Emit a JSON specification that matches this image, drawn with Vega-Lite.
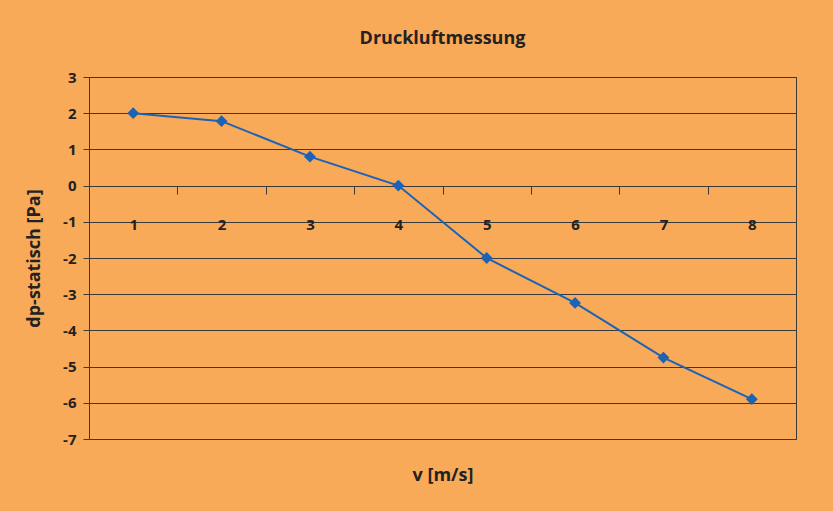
{
  "$schema": "https://vega.github.io/schema/vega-lite/v6.json",
  "width": 707,
  "height": 362,
  "autosize": {"type": "none"},
  "padding": {"left": 89, "top": 77, "right": 37, "bottom": 72},
  "background": "#F9AA58",
  "title": {
    "text": "Druckluftmessung",
    "font": "Open Sans",
    "fontSize": 18,
    "fontWeight": "bold",
    "color": "#222222",
    "anchor": "middle",
    "offset": 22
  },
  "config": {
    "view": {"stroke": "#3a3a3a", "strokeWidth": 1, "fill": null},
    "axis": {
      "labelFont": "Open Sans",
      "labelFontSize": 15,
      "labelFontWeight": "bold",
      "labelColor": "#222222",
      "titleFont": "Open Sans",
      "titleFontSize": 18,
      "titleFontWeight": "bold",
      "titleColor": "#222222",
      "domainColor": "#3a3a3a",
      "tickColor": "#3a3a3a",
      "gridColor": "#3a3a3a",
      "gridOpacity": 1
    }
  },
  "data": {
    "values": [
      {"v": "1", "dp": 2.0},
      {"v": "2", "dp": 1.78},
      {"v": "3", "dp": 0.8},
      {"v": "4", "dp": 0.0},
      {"v": "5", "dp": -2.0},
      {"v": "6", "dp": -3.24},
      {"v": "7", "dp": -4.75},
      {"v": "8", "dp": -5.9}
    ]
  },
  "encoding": {
    "x": {
      "field": "v",
      "type": "ordinal",
      "bandPosition": 0.5,
      "scale": {"type": "band", "paddingInner": 0, "paddingOuter": 0},
      "axis": {
        "title": "v [m/s]",
        "orient": "bottom",
        "offset": -253,
        "labelAngle": 0,
        "tickBand": "extent",
        "tickSize": 8,
        "labelPadding": 23,
        "grid": false,
        "titleY": 289,
        "titleBaseline": "middle"
      }
    },
    "y": {
      "field": "dp",
      "type": "quantitative",
      "scale": {"domain": [-7, 3], "nice": false, "zero": false},
      "axis": {
        "title": "dp-statisch [Pa]",
        "values": [-7, -6, -5, -4, -3, -2, -1, 0, 1, 2, 3],
        "labelExpr": "toString(datum.value)",
        "tickSize": 6,
        "labelPadding": 7,
        "grid": true,
        "titleX": -55,
        "titleBaseline": "middle"
      }
    }
  },
  "layer": [
    {"mark": {"type": "line", "color": "#1B63B6", "strokeWidth": 2}},
    {"mark": {"type": "point", "shape": "diamond", "filled": true, "size": 140, "color": "#1B63B6", "opacity": 1}}
  ]
}
